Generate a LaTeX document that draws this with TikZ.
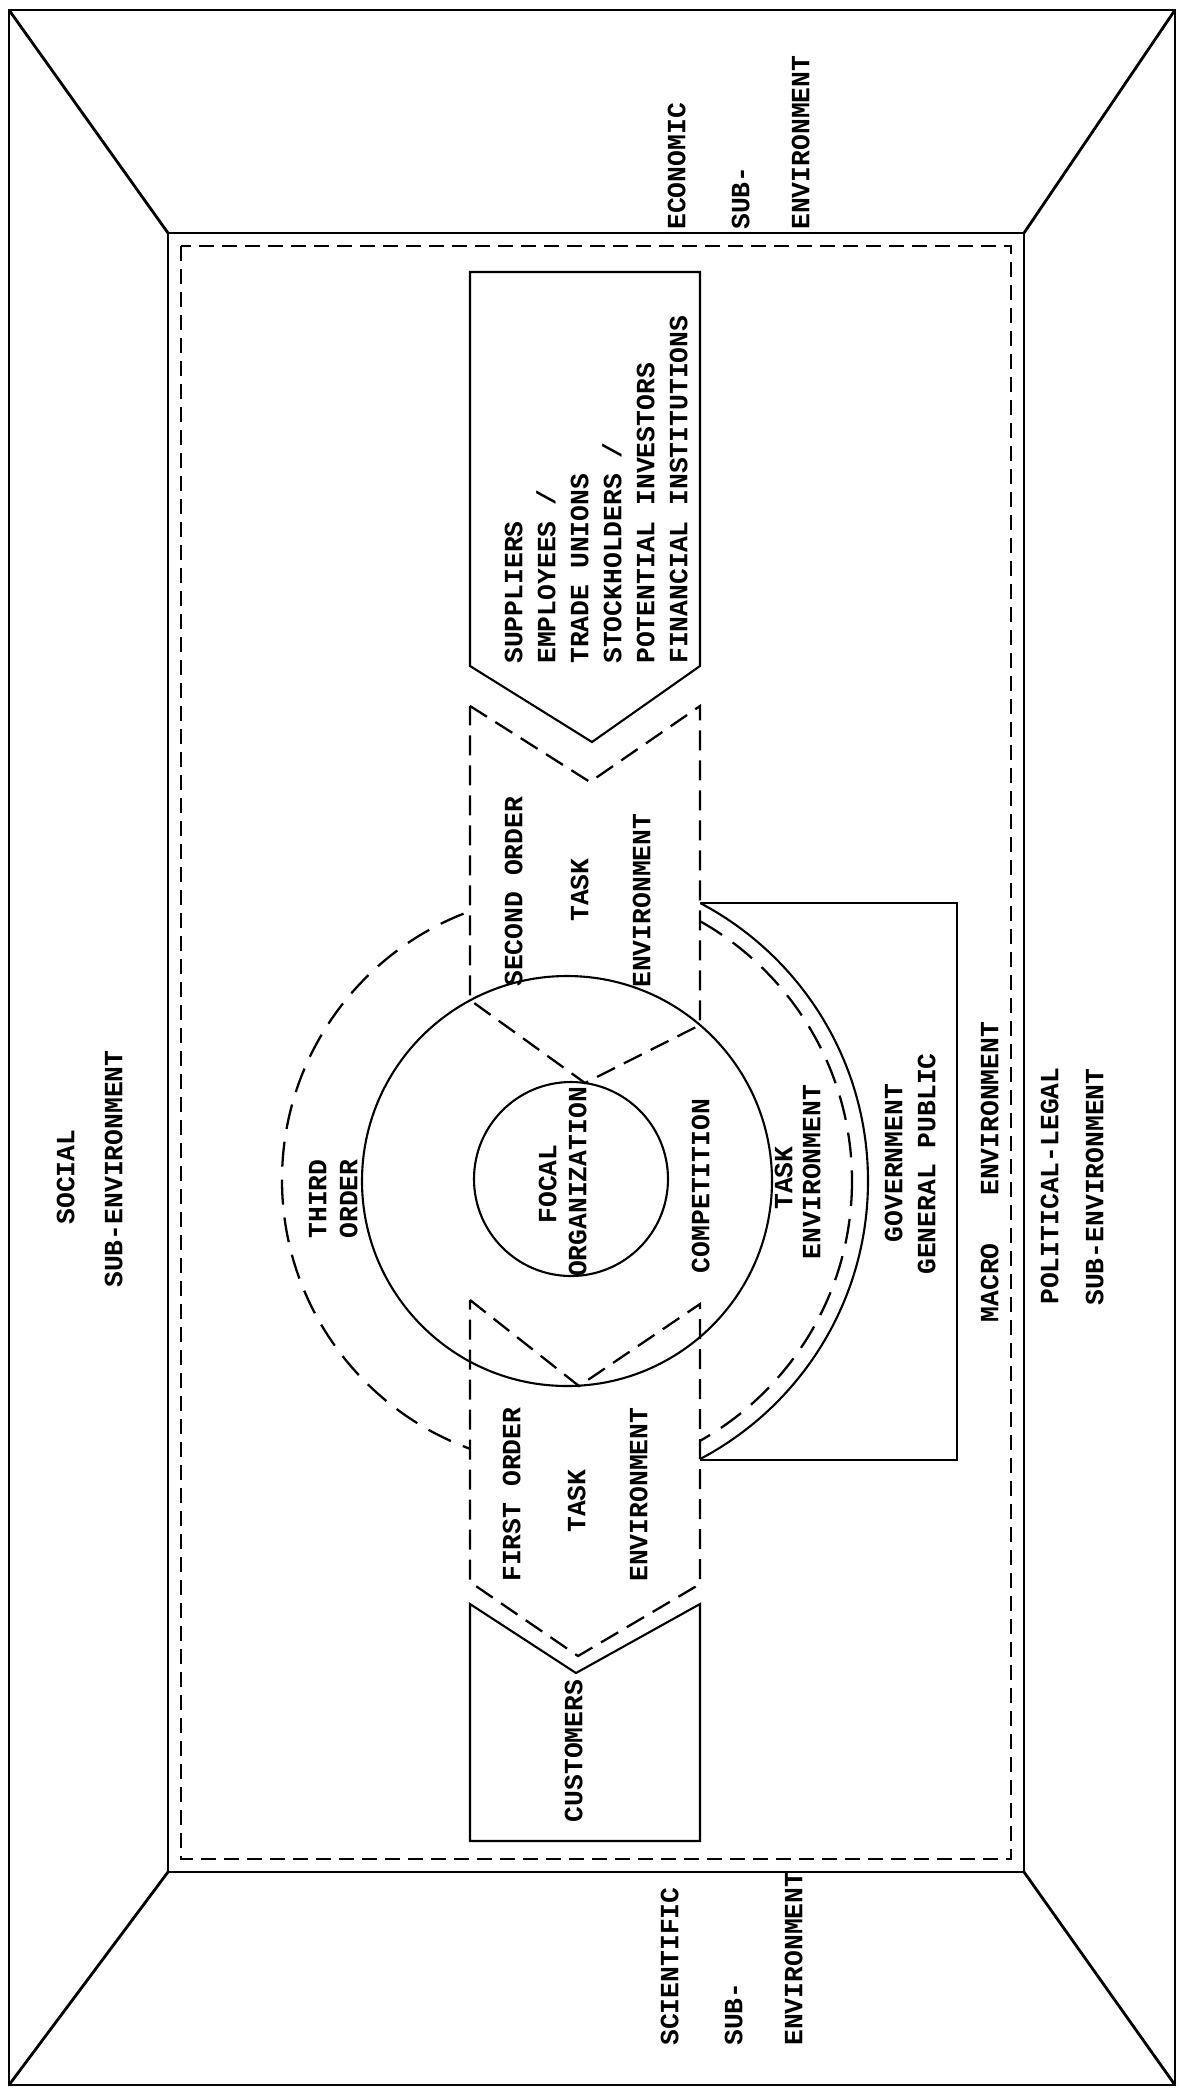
\documentclass[tikz,border=0pt]{standalone}
\usepackage{fontspec}
\setmainfont{Liberation Mono}
\begin{document}
\begin{tikzpicture}[x=0.2mm,y=-0.2mm,
  wallline/.style={line width=1.6pt, line join=miter},
  boxline/.style={line width=1.2pt, line join=miter},
  dashbox/.style={line width=1.3pt, dash pattern=on 4mm off 2mm},
  dasharc/.style={line width=1.3pt, dash pattern=on 5mm off 2.6mm},
  dashrect/.style={line width=1.3pt, dash pattern=on 3mm off 1.6mm},
  lbl/.style={font=\fontsize{15}{19}\selectfont\bfseries, rotate=90, inner sep=0pt, text height=0.6em, text depth=0pt},
  lblfoot/.style={lbl, anchor=west},
]
\useasboundingbox (0,0) rectangle (1179,2089);
\fill[white] (0,0) rectangle (1179,2089);

% corners of the outer frame and of the inner room
\coordinate (oTL) at (9,10);    \coordinate (oTR) at (1175,10);
\coordinate (oBR) at (1175,2085); \coordinate (oBL) at (9,2085);
\coordinate (iTL) at (168,233);  \coordinate (iTR) at (1024,233);
\coordinate (iBR) at (1024,1872); \coordinate (iBL) at (168,1872);

\draw[wallline] (oTL) -- (oTR) -- (oBR) -- (oBL) -- cycle;
\draw[wallline] (iTL) -- (iTR) -- (iBR) -- (iBL) -- cycle;
\draw[wallline] (oTL) -- (iTL);
\draw[wallline] (oTR) -- (iTR);
\draw[wallline] (oBR) -- (iBR);
\draw[wallline] (oBL) -- (iBL);

% macro environment boundary
\coordinate (mTL) at (181,246); \coordinate (mBR) at (1011,1859);
\draw[dashrect] (mTL) rectangle (mBR);

% suppliers box
\coordinate (s1) at (470,272); \coordinate (s2) at (700,272);
\coordinate (s3) at (700,666); \coordinate (s4) at (592,742);
\coordinate (s5) at (470,666);
\draw[boxline] (s1) -- (s2) -- (s3) -- (s4) -- (s5) -- cycle;

% second order task environment
\coordinate (b1) at (470,706); \coordinate (b2) at (590,782);
\coordinate (b3) at (700,706); \coordinate (b4) at (700,1025);
\coordinate (b5) at (585,1083); \coordinate (b6) at (470,1000);
\draw[dashbox] (b1) -- (b2) -- (b3) -- (b4) -- (b5) -- (b6) -- cycle;

% first order task environment
\coordinate (f1) at (470,1300); \coordinate (f2) at (579,1386);
\coordinate (f3) at (700,1304); \coordinate (f4) at (700,1584);
\coordinate (f5) at (578,1656); \coordinate (f6) at (470,1582);
\draw[dashbox] (f1) -- (f2) -- (f3) -- (f4) -- (f5) -- (f6) -- cycle;

% customers box
\coordinate (c1) at (470,1604); \coordinate (c2) at (576,1673);
\coordinate (c3) at (700,1604); \coordinate (c4) at (700,1841);
\coordinate (c5) at (470,1841);
\draw[boxline] (c1) -- (c2) -- (c3) -- (c4) -- (c5) -- cycle;

% government / general public box
\coordinate (g1) at (700,903); \coordinate (g2) at (957,903);
\coordinate (g3) at (957,1460); \coordinate (g4) at (700,1460);
\draw[boxline] (g1) -- (g2) -- (g3) -- (g4);

% focal organization and competition rings
\coordinate (core) at (571,1179);
\coordinate (ring) at (567,1181);
\draw[boxline] (core) circle (97);
\draw[boxline] (ring) circle (205);

% third order arc
\coordinate (third) at (568,1180);
\begin{scope}
  \clip (0,0) rectangle (470,2089);
  \draw[dasharc] (third) circle (286);
\end{scope}

% task environment arcs
\coordinate (task) at (554,1181);
\begin{scope}
  \clip (700,0) rectangle (1179,2089);
  \draw[boxline] (task) circle (314);
  \draw[dasharc] (task) circle (298);
\end{scope}

% labels of the sub-environments
\node[lbl] (soc1) at (69,1177) {SOCIAL};
\node[lbl] (soc2) at (117,1169) {SUB-ENVIRONMENT};

\node[lblfoot] (eco1) at (680,230) {ECONOMIC};
\node[lblfoot] (eco2) at (744,230) {SUB-};
\node[lblfoot] (eco3) at (804,230) {ENVIRONMENT};

\node[lblfoot] (sci1) at (673,2046) {SCIENTIFIC};
\node[lblfoot] (sci2) at (737,2046) {SUB-};
\node[lblfoot] (sci3) at (797,2046) {ENVIRONMENT};

\node[lbl] (pol1) at (1053,1186) {POLITICAL-LEGAL};
\node[lbl] (pol2) at (1098,1187) {SUB-ENVIRONMENT};

\node[lbl] (macro) at (993,1172) {MACRO\ \ \ ENVIRONMENT};

% labels inside the task environment
\node[lbl] (gov1) at (897,1163) {GOVERNMENT};
\node[lbl] (gov2) at (930,1164) {GENERAL PUBLIC};

\node[lbl] (task1) at (787,1178) {TASK};
\node[lbl] (task2) at (815,1172) {ENVIRONMENT};

\node[lbl] (comp) at (704,1186) {COMPETITION};

\node[lbl] (focal1) at (551,1184) {FOCAL};
\node[lbl] (focal2) at (581,1182) {ORGANIZATION};

\node[lbl] (ord1) at (321,1199) {THIRD};
\node[lbl] (ord2) at (352,1199) {ORDER};

\node[lblfoot] (sec1) at (517,987) {SECOND ORDER};
\node[lbl]     (sec2) at (583,890) {TASK};
\node[lblfoot] (sec3) at (645,988) {ENVIRONMENT};

\node[lblfoot] (fir1) at (515,1582) {FIRST ORDER};
\node[lbl]     (fir2) at (580,1501) {TASK};
\node[lblfoot] (fir3) at (642,1582) {ENVIRONMENT};

\node[lbl] (cust) at (577,1751) {CUSTOMERS};

\node[lblfoot] (sup1) at (517,664) {SUPPLIERS};
\node[lblfoot] (sup2) at (550,664) {EMPLOYEES /};
\node[lblfoot] (sup3) at (583,664) {TRADE UNIONS};
\node[lblfoot] (sup4) at (616,664) {STOCKHOLDERS /};
\node[lblfoot] (sup5) at (649,664) {POTENTIAL INVESTORS};
\node[lblfoot] (sup6) at (682,664) {FINANCIAL INSTITUTIONS};
\end{tikzpicture}
\end{document}
